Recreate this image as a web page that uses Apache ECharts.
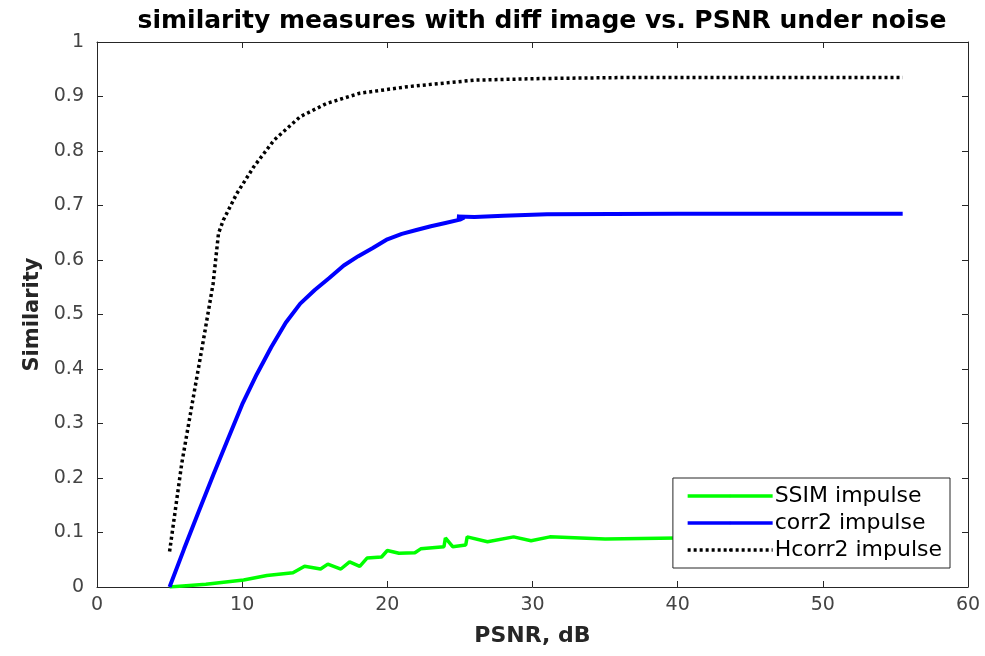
<!DOCTYPE html>
<html>
<head>
<meta charset="utf-8">
<script src="https://cdn.jsdelivr.net/npm/echarts@6/dist/echarts.min.js"></script>
<style>
  html, body { margin: 0; padding: 0; background: #fff; }
  #chart { width: 985px; height: 656px; }
</style>
</head>
<body>
<div id="chart"></div>
<script>
// values
const xTicks = [0, 10, 20, 30, 40, 50, 60];
const yTicks = [0, 0.1, 0.2, 0.3, 0.4, 0.5, 0.6, 0.7, 0.8, 0.9, 1];

const ssimX = [5.0, 7.5, 10.1, 11.7, 13.5, 14.3, 15.4, 15.9, 16.8, 17.4, 18.1, 18.6, 19.6, 20.0, 20.8, 21.9, 22.3, 23.9, 24.0, 24.5, 25.4, 25.5, 26.9, 28.7, 29.9, 31.2, 35, 40, 45, 50, 55.5];
const ssimY = [0, 0.005, 0.013, 0.021, 0.026, 0.038, 0.033, 0.042, 0.033, 0.046, 0.038, 0.053, 0.055, 0.067, 0.062, 0.063, 0.07, 0.074, 0.09, 0.074, 0.077, 0.092, 0.083, 0.092, 0.085, 0.092, 0.088, 0.09, 0.09, 0.09, 0.09];

const corrX = [5, 6, 7, 8, 9, 10, 11, 12, 13, 14, 15, 16, 17, 18, 19, 20, 21, 22, 23, 24, 25, 25.3, 24.8, 26, 28, 31, 40, 48, 55.5];
const corrY = [0, 0.07, 0.138, 0.205, 0.27, 0.335, 0.39, 0.44, 0.485, 0.52, 0.545, 0.567, 0.59, 0.607, 0.622, 0.638, 0.648, 0.655, 0.662, 0.668, 0.674, 0.678, 0.68, 0.679, 0.681, 0.684, 0.685, 0.685, 0.685];

const hcorrX = [5.0, 5.84, 6.64, 7.33, 8.0, 8.37, 8.7, 9.63, 10.8, 12.2, 14.0, 15.8, 17.0, 18.1, 21.4, 26.0, 30.6, 37.0, 45, 55.5];
const hcorrY = [0.065, 0.227, 0.349, 0.453, 0.557, 0.649, 0.673, 0.722, 0.771, 0.82, 0.863, 0.887, 0.897, 0.906, 0.918, 0.93, 0.933, 0.935, 0.935, 0.935];

const seriesNames = ['SSIM impulse', 'corr2 impulse', 'Hcorr2 impulse'];

const pairs = (xs, ys) => xs.map((x, i) => [x, ys[i]]);

const axisColor = '#262626';
const font = 'DejaVu Sans';

const baseX = {
  type: 'value', min: 0, max: 60, interval: 10,
  axisLine: { show: true, onZero: false, lineStyle: { color: axisColor, width: 1 } },
  axisTick: { show: true, inside: true, length: 6, lineStyle: { color: axisColor } },
  splitLine: { show: false }
};
const baseY = {
  type: 'value', min: 0, max: 1, interval: 0.1,
  axisLine: { show: true, onZero: false, lineStyle: { color: axisColor, width: 1 } },
  axisTick: { show: true, inside: true, length: 6, lineStyle: { color: axisColor } },
  splitLine: { show: false }
};

const chart = echarts.init(document.getElementById('chart'));
chart.setOption({
  backgroundColor: '#fff',
  animation: false,
  title: {
    text: 'similarity measures with diff image vs. PSNR under noise',
    left: 537, top: 4, textAlign: 'center',
    textStyle: { fontFamily: font, fontWeight: 'bold', fontSize: 25, color: '#000' }
  },
  grid: { left: 97, right: 17, top: 42, bottom: 69 },
  legend: {
    orient: 'vertical', right: 35, top: 478,
    data: seriesNames,
    itemWidth: 85, itemHeight: 3, itemGap: 3,
    padding: [6, 8, 6, 13],
    backgroundColor: '#fff', borderColor: '#262626', borderWidth: 1,
    lineStyle: { width: 3.5 },
    textStyle: { fontFamily: font, fontSize: 22, lineHeight: 24, color: '#000', padding: [0, 0, 0, -3] }
  },
  xAxis: [
    Object.assign({}, baseX, {
      position: 'bottom',
      name: 'PSNR, dB', nameLocation: 'middle', nameGap: 38,
      nameTextStyle: { fontFamily: font, fontWeight: 'bold', fontSize: 22, color: '#262626' },
      axisLabel: {
        fontFamily: font, fontSize: 19, color: '#444', margin: 9,
        formatter: v => (xTicks.includes(v) ? String(v) : '')
      }
    }),
    Object.assign({}, baseX, { position: 'top', axisLabel: { show: false } })
  ],
  yAxis: [
    Object.assign({}, baseY, {
      position: 'left',
      name: 'Similarity', nameLocation: 'middle', nameGap: 54,
      nameTextStyle: { fontFamily: font, fontWeight: 'bold', fontSize: 21, color: '#262626' },
      axisLabel: {
        fontFamily: font, fontSize: 19, color: '#444', margin: 13,
        formatter: v => {
          const t = yTicks.find(k => Math.abs(k - v) < 1e-9);
          return t === undefined ? '' : String(t);
        }
      }
    }),
    Object.assign({}, baseY, { position: 'right', axisLabel: { show: false } })
  ],
  series: [
    {
      name: seriesNames[0], type: 'line', data: pairs(ssimX, ssimY),
      symbol: 'none', z: 3,
      lineStyle: { color: '#00ff00', width: 3.5 },
      itemStyle: { color: '#00ff00' }
    },
    {
      name: seriesNames[1], type: 'line', data: pairs(corrX, corrY),
      symbol: 'none', z: 4,
      lineStyle: { color: '#0000ff', width: 4 },
      itemStyle: { color: '#0000ff' }
    },
    {
      name: seriesNames[2], type: 'line', data: pairs(hcorrX, hcorrY),
      symbol: 'none', z: 5,
      lineStyle: { color: '#000', width: 3.5, type: [3, 3] },
      itemStyle: { color: '#000' }
    }
  ]
});
</script>
</body>
</html>
